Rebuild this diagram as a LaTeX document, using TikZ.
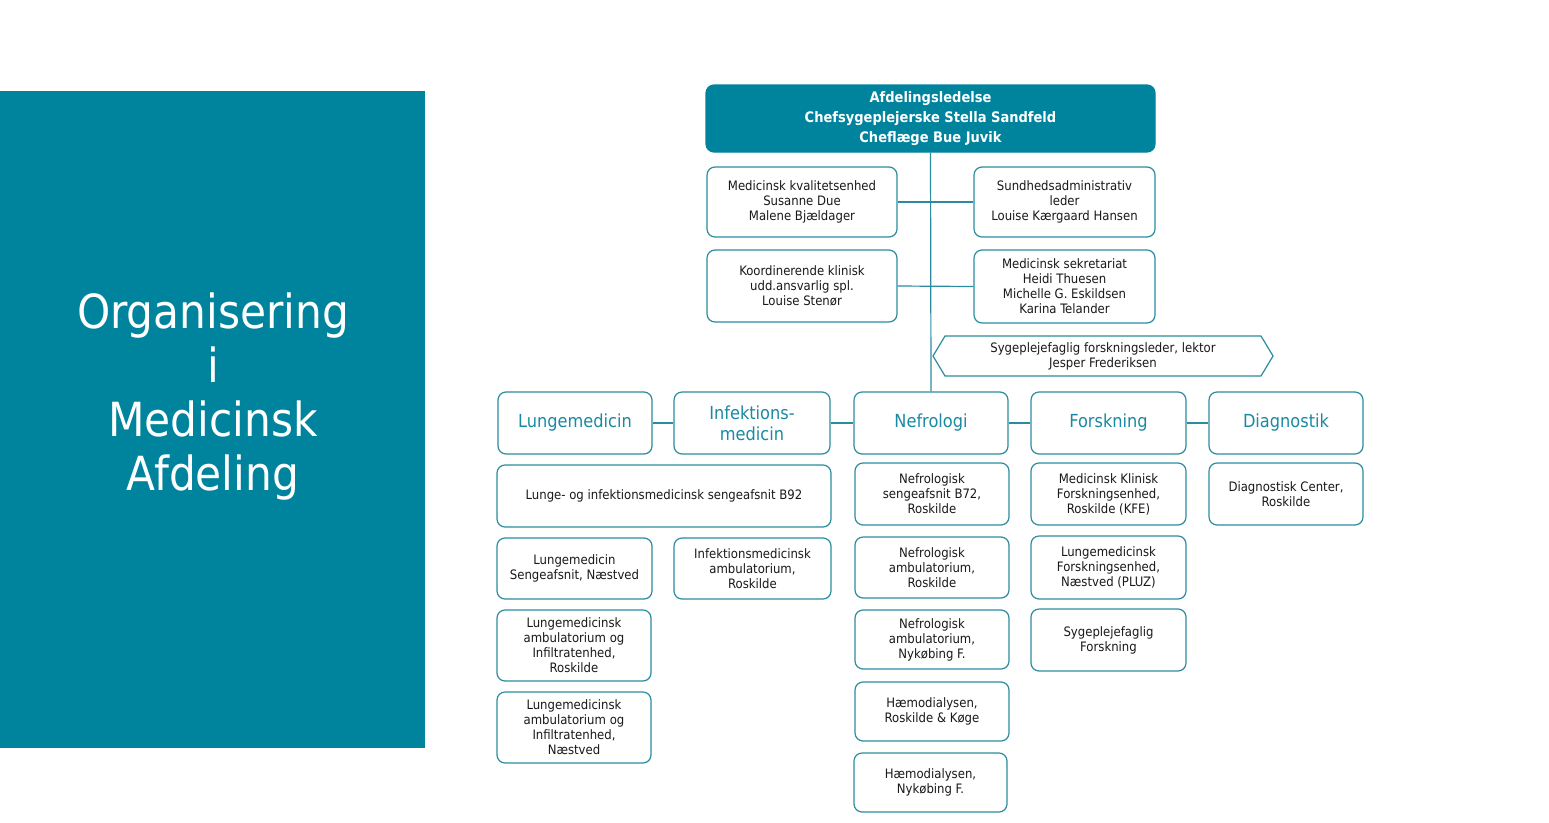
\documentclass[tikz,border=0pt]{standalone}
\usepackage{fontspec}
\setmainfont{DejaVu Sans Condensed}
\usetikzlibrary{positioning,shapes.symbols}
\definecolor{afdteal}{HTML}{00849E}
\definecolor{boxline}{HTML}{2B8CA0}
\definecolor{headtxt}{HTML}{1A8AA3}

\begin{document}
\begin{tikzpicture}[
    x=1pt, y=-1pt,
    unit/.style={draw=boxline, line width=1.2pt, rounded corners=8pt, fill=white,
      align=center, inner sep=2pt, minimum width=154, minimum height=62,
      font=\fontsize{13}{15}\selectfont, text=black!90},
    head/.style={unit, font=\fontsize{18}{21}\selectfont, text=headtxt},
    lead/.style={unit, fill=afdteal, draw=afdteal, text=white,
      font=\bfseries\fontsize{14.5}{20}\selectfont},
    link/.style={draw=boxline, line width=1.2pt}
  ]
  \useasboundingbox (0,0) rectangle (1549,822);

  % Title panel
  \fill[afdteal] (0,91) rectangle (425,748);
  \node[text=white, align=center, font=\fontsize{47}{54}\selectfont] (title) at (213,397)
    {Organisering\\i\\Medicinsk\\Afdeling};

  % Management
  \node[lead, minimum width=449, minimum height=67] (ledelse) at (930.5,118.5)
    {Afdelingsledelse\\Chefsygeplejerske Stella Sandfeld\\Cheflæge Bue Juvik};
  \node[unit, minimum width=190, minimum height=70] (kval) at (802,202)
    {Medicinsk kvalitetsenhed\\Susanne Due\\Malene Bjældager};
  \node[unit, minimum width=181, minimum height=70] (sundadm) at (1064.5,202)
    {Sundhedsadministrativ\\leder\\Louise Kærgaard Hansen};
  \node[unit, minimum width=190, minimum height=72] (koord) at (802,286)
    {Koordinerende klinisk\\udd.ansvarlig spl.\\Louise Stenør};
  \node[unit, minimum width=181, minimum height=73] (sekr) at (1064.5,286.5)
    {Medicinsk sekretariat\\Heidi Thuesen\\Michelle G. Eskildsen\\Karina Telander};
  \node[draw=boxline, line width=1.2pt, fill=white, signal, signal to=east and west,
    signal pointer angle=118, minimum width=340, minimum height=40, inner sep=2pt,
    align=center, font=\fontsize{13}{15}\selectfont, text=black!90] (forskleder) at (1103,356)
    {Sygeplejefaglig forskningsleder, lektor\\Jesper Frederiksen};

  % Departments
  \node[head] (lunge) at (575,423) {Lungemedicin};
  \node[head, minimum width=156] (infek) at (752,423) {Infektions-\\medicin};
  \node[head] (nefro) at (931,423) {Nefrologi};
  \node[head, minimum width=155] (forsk) at (1108.5,423) {Forskning};
  \node[head] (diag) at (1286,423) {Diagnostik};

  % Units
  \node[unit, minimum width=334] (b92) at (664,496)
    {Lunge- og infektionsmedicinsk sengeafsnit B92};
  \node[unit, minimum height=61, minimum width=155] (lungsen) at (574.5,568.5)
    {Lungemedicin\\Sengeafsnit, Næstved};
  \node[unit, minimum height=61, minimum width=157] (infamb) at (752.5,568.5)
    {Infektionsmedicinsk\\ambulatorium,\\Roskilde};
  \node[unit, minimum height=71] (lungamb) at (574,645.5)
    {Lungemedicinsk\\ambulatorium og\\Infiltratenhed,\\Roskilde};
  \node[unit, minimum height=71] (lungnae) at (574,727.5)
    {Lungemedicinsk\\ambulatorium og\\Infiltratenhed,\\Næstved};

  \node[unit] (nefsen) at (932,494) {Nefrologisk\\sengeafsnit B72,\\Roskilde};
  \node[unit, minimum height=61] (nefamb) at (932,567.5) {Nefrologisk\\ambulatorium,\\Roskilde};
  \node[unit, minimum height=59] (nefnyk) at (932,639.5) {Nefrologisk\\ambulatorium,\\Nykøbing F.};
  \node[unit, minimum height=59] (haemros) at (932,711.5) {Hæmodialysen,\\Roskilde \& Køge};
  \node[unit, minimum height=59, minimum width=153] (haemnyk) at (930.5,782.5) {Hæmodialysen,\\Nykøbing F.};

  \node[unit, minimum width=155] (kfe) at (1108.5,494) {Medicinsk Klinisk\\Forskningsenhed,\\Roskilde (KFE)};
  \node[unit, minimum width=155, minimum height=63] (pluz) at (1108.5,567.5) {Lungemedicinsk\\Forskningsenhed,\\Næstved (PLUZ)};
  \node[unit, minimum width=155] (sygforsk) at (1108.5,640) {Sygeplejefaglig\\Forskning};

  \node[unit] (diagc) at (1286,494) {Diagnostisk Center,\\Roskilde};

  % Connectors
  \draw[link] (ledelse.south) -- (nefro.north);
  \draw[link] (kval.east) -- (sundadm.west);
  \draw[link] (koord.east) -- (sekr.west);
  \draw[link] (lunge) -- (infek);
  \draw[link] (infek) -- (nefro);
  \draw[link] (nefro) -- (forsk);
  \draw[link] (forsk) -- (diag);
\end{tikzpicture}
\end{document}
